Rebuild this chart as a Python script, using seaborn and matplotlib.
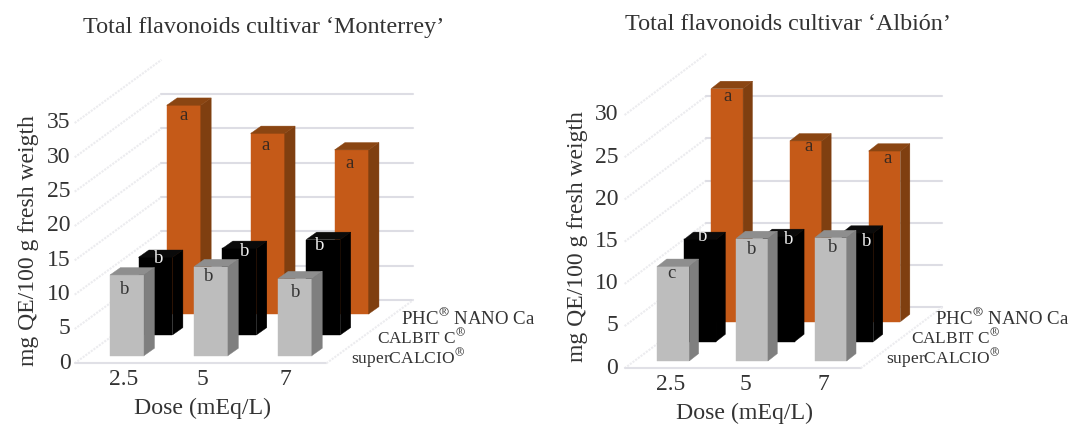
import matplotlib
matplotlib.use("Agg")
import matplotlib.pyplot as plt
from matplotlib.patches import Polygon
from matplotlib.transforms import Affine2D
import pandas as pd
import seaborn as sns

# ---- data ----
doses = ["2.5", "5", "7"]
series_names = ["PHC$^{®}$ NANO Ca", "CALBIT C$^{®}$", "superCALCIO$^{®}$"]

monterrey_phc = [30.4, 26.3, 23.9]
monterrey_calbit = [11.3, 12.6, 13.9]
monterrey_super = [11.75, 12.95, 11.2]
monterrey_letters = [["a", "a", "a"], ["b", "b", "b"], ["b", "b", "b"]]

albion_phc = [27.6, 21.4, 20.2]
albion_calbit = [12.1, 12.45, 12.85]
albion_super = [11.2, 14.5, 14.6]
albion_letters = [["a", "a", "a"], ["b", "b", "b"], ["c", "b", "b"]]

# ---- style ----
sns.set_theme(style="white")
plt.rcParams["font.family"] = ["Liberation Serif", "DejaVu Serif"]
plt.rcParams["mathtext.fontset"] = "stix"
TEXT = "#333333"
FACE = ["#C55A18", "#000000", "#BDBDBD"]
SIDE = ["#7F3F10", "#000000", "#7F7F7F"]
TOP = ["#8A4512", "#0A0A0A", "#8E8E8E"]
LETTER = ["#3a2a20", "#F0F0F0", "#333333"]
NAME_SIZE = [13.6, 12.4, 12.6]
WIDTH = 0.405
W, H = 1086, 425

fig = plt.figure(figsize=(W / 100, H / 100), dpi=100)
fig.patch.set_facecolor("white")


def panel(rect_px, ymax, back_max, values, letters, plane_x, plane_y, side_x, side_y,
          wall_x, wall_y, tick_x, tick_pad, nudge_x, nudge_y):
    left, right, base, top = rect_px
    ax = fig.add_axes([left / W, 1 - base / H, (right - left) / W, (base - top) / H])
    ax.set_facecolor("none")

    # walls and floor
    wall = Affine2D().translate(wall_x, wall_y) + ax.transData
    ticks = list(range(0, ymax + 1, 5))
    for t in ticks:
        ax.plot([-0.5, -0.5 + wall_x], [t, t + wall_y], color="#ECECEF", lw=1.5,
                ls=(0, (1, 0.6)), clip_on=False, zorder=0.5)
        if t <= back_max:
            ax.plot([-0.5, 2.5], [t, t], transform=wall, color="#DDDDE4", lw=1.5,
                    clip_on=False, zorder=0.5)
    ax.plot([-0.5, 2.5], [0, 0], color="#E0E0E6", lw=1.5, clip_on=False, zorder=0.5)
    ax.plot([2.5, 2.5 + wall_x], [0, wall_y], color="#ECECEF", lw=1.5,
            ls=(0, (1, 0.6)), clip_on=False, zorder=0.5)

    # bars, back series first
    for s in range(3):
        frame = pd.DataFrame({"dose": doses, "value": values[s]})
        before = len(ax.patches)
        sns.barplot(data=frame, x="dose", y="value", order=doses, color=FACE[s],
                    saturation=1, width=WIDTH, ax=ax, linewidth=0, errorbar=None)
        shift = Affine2D().translate(plane_x[s], plane_y[s]) + ax.transData
        for k, bar in enumerate(ax.patches[before:]):
            bar.set_transform(shift)
            bar.set_clip_on(False)
            bar.set_edgecolor(FACE[s])
            bar.set_linewidth(0.3)
            x0, x1, v = bar.get_x(), bar.get_x() + bar.get_width(), bar.get_height()
            ax.add_patch(Polygon([(x1, 0), (x1 + side_x, side_y), (x1 + side_x, v + side_y), (x1, v)],
                                 closed=True, fc=SIDE[s], ec=SIDE[s], lw=0.3, transform=shift, clip_on=False))
            ax.add_patch(Polygon([(x0, v), (x0 + side_x, v + side_y), (x1 + side_x, v + side_y), (x1, v)],
                                 closed=True, fc=TOP[s], ec=TOP[s], lw=0.3, transform=shift, clip_on=False))
            ax.text(k + nudge_x[s][k], v - nudge_y[s][k], letters[s][k], transform=shift,
                    ha="center", va="center", fontsize=13.5, color=LETTER[s], zorder=5)

    ax.set_xlim(-0.5, 2.5)
    ax.set_ylim(0, ymax)
    ax.set_xticks(tick_x, doses)
    ax.set_yticks(ticks)
    ax.set_xlabel("")
    ax.set_ylabel("")
    ax.tick_params(axis="both", length=0, labelsize=17, labelcolor=TEXT)
    ax.tick_params(axis="y", pad=tick_pad)
    ax.tick_params(axis="x", pad=4)
    lift = Affine2D().translate(0, 2.7)
    for lab in ax.get_yticklabels():
        lab.set_transform(lab.get_transform() + lift)
    sns.despine(ax=ax, left=True, bottom=True)
    return ax


panel((74.7, 326.4, 363.3, 123.0), 35, 30,
      [monterrey_phc, monterrey_calbit, monterrey_super], monterrey_letters,
      plane_x=[0.80, 0.463, 0.124], plane_y=[7.18, 4.13, 1.12], side_x=0.124, side_y=1.07,
      wall_x=1.034, wall_y=9.2, tick_x=[0.08, 1.02, 2.01], tick_pad=3,
      nudge_x=[[0, -0.02, -0.02], [0.04, 0.066, -0.045], [-0.03, -0.03, 0.01]],
      nudge_y=[[1.45, 1.8, 1.95], [0.2, 0.5, 0.8], [2.1, 1.45, 2.0]])

panel((624.6, 860.7, 368.3, 115.0), 30, 25,
      [albion_phc, albion_calbit, albion_super], albion_letters,
      plane_x=[0.803, 0.459, 0.119], plane_y=[5.53, 3.16, 0.87], side_x=0.119, side_y=0.87,
      wall_x=1.037, wall_y=7.23, tick_x=[0.08, 1.03, 2.02], tick_pad=4.5,
      nudge_x=[[0.01, 0.04, 0.035], [0.03, 0.13, 0.115], [-0.03, 0, 0.03]],
      nudge_y=[[0.9, 0.67, 0.87], [-0.4, 0.4, 1.0], [0.9, 1.34, 1.2]])


def label(x, y, s, **kw):
    kw.setdefault("ha", "center")
    kw.setdefault("va", "center")
    kw.setdefault("color", TEXT)
    fig.text(x / W, 1 - y / H, s, **kw)


label(264, 28, "Total flavonoids cultivar ‘Monterrey’", fontsize=17.4)
label(788, 24, "Total flavonoids cultivar ‘Albión’", fontsize=17.4)
label(29, 241, "mg QE/100 g fresh weigth", rotation=90, fontsize=17)
label(578, 237, "mg QE/100 g fresh weigth", rotation=90, fontsize=17)
label(203, 408, "Dose (mEq/L)", fontsize=17.2)
label(744, 413, "Dose (mEq/L)", fontsize=17.2)

for (xs, ys) in [((401, 377, 351), (318, 338, 358.5)), ((935, 911, 886), (318, 338, 358))]:
    for x, y, name, size in zip(xs, ys, series_names, NAME_SIZE):
        label(x, y, name, ha="left", fontsize=size)

fig.savefig("out.png", dpi=100, facecolor="white")
